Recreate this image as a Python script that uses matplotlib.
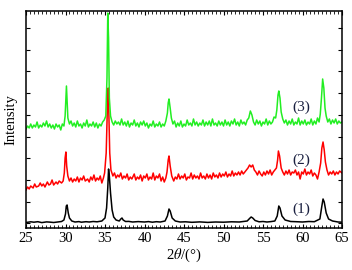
import numpy as np
import matplotlib
matplotlib.use("Agg")
import matplotlib.pyplot as plt
from matplotlib.ticker import MultipleLocator, NullFormatter

plt.rcParams['font.family'] = ['Liberation Serif', 'DejaVu Serif']
plt.rcParams['mathtext.fontset'] = 'stix'

# muestra (1) - negro
s1 = [(25.0, 5.5), (25.6, 6.2), (26, 5.8), (26.5, 6.3), (27, 5.4), (27.6, 6.1), (28, 5.9), (28.5, 5.5),
      (29, 6.0), (29.5, 6.5), (29.8, 8), (30.0, 14),
      (30.1, 22), (30.2, 23), (30.35, 15), (30.5, 10), (30.8, 7), (31.2, 6), (31.7, 6.4), (32, 5.8),
      (32.6, 6.3), (33, 6), (33.5, 6.5), (34, 6.2), (34.6, 7), (35.0, 10), (35.2, 20), (35.35, 40),
      (35.45, 59), (35.55, 52), (35.7, 35), (35.9, 18), (36.1, 11), (36.4, 8), (36.8, 7), (37.0, 9),
      (37.15, 10), (37.3, 8), (37.6, 6.5), (38.0, 6.6), (38.5, 6), (39.2, 6.4), (40, 6), (40.5, 6.4),
      (41, 5.8), (41.5, 6.3), (42, 6), (42.6, 7), (42.9, 12), (43.1, 19),
      (43.25, 17), (43.5, 10), (43.9, 7), (44.5, 6), (45.2, 6.2), (46, 5.7), (47, 6.1), (48, 5.6),
      (49, 6.0), (50, 5.8), (51, 6.2), (52, 6),
      (53, 7), (53.3, 9.5), (53.5, 11), (53.7, 10), (54.0, 7.5), (54.5, 6.2), (55.0, 6.5), (55.5, 6),
      (56.0, 6.4), (56.5, 7),
      (56.8, 12), (57.0, 22), (57.15, 20), (57.4, 12), (57.8, 8), (58.5, 6.5), (59.2, 6.3), (60, 6),
      (60.8, 6.5), (61.5, 6.3), (62.2, 9), (62.45, 22), (62.6, 29), (62.75, 26), (63.0, 15), (63.3, 9),
      (63.8, 7), (64.5, 6), (65, 5.8)]

# muestra (2) - rojo
s2 = [(25.0, 38), (25.2, 41), (25.4, 39), (25.6, 42), (25.9, 40), (26.1, 44), (26.3, 41), (26.6, 42),
      (26.8, 45), (27.0, 42), (27.2, 44), (27.4, 41), (27.7, 46), (27.9, 43), (28.1, 44), (28.3, 48),
      (28.5, 43), (28.8, 46), (29.0, 44), (29.2, 47), (29.5, 45), (29.7, 47), (29.85, 55), (29.95, 70),
      (30.05, 76), (30.15, 62), (30.3, 52), (30.5, 47), (30.7, 50), (30.9, 46), (31.1, 49), (31.3, 47),
      (31.5, 51), (31.7, 46), (31.9, 50), (32.1, 48), (32.3, 52), (32.5, 47), (32.8, 49), (33.0, 46),
      (33.2, 51), (33.4, 48), (33.6, 53), (33.8, 47), (34.0, 50), (34.2, 48), (34.4, 52), (34.6, 45),
      (34.8, 50), (34.95, 55), (35.15, 75), (35.3, 120), (35.4, 140), (35.5, 110), (35.6, 75),
      (35.75, 58), (36.0, 52), (36.2, 55), (36.4, 50), (36.6, 53), (36.8, 51), (37.0, 55), (37.2, 49),
      (37.4, 52), (37.6, 50), (37.8, 54), (38.0, 48), (38.2, 51), (38.4, 49), (38.7, 54), (38.9, 48),
      (39.1, 51), (39.3, 49), (39.5, 53), (39.7, 47), (39.9, 52), (40.1, 50), (40.3, 54), (40.5, 48),
      (40.7, 51), (40.9, 49), (41.1, 55), (41.3, 48), (41.5, 52), (41.7, 50), (41.9, 54), (42.1, 47),
      (42.3, 51), (42.5, 46), (42.7, 50), (42.85, 56), (43.0, 68), (43.1, 72), (43.25, 62),
      (43.45, 52), (43.7, 47), (43.9, 51), (44.1, 49), (44.3, 54), (44.5, 49), (44.7, 52), (44.9, 50),
      (45.1, 54), (45.3, 48), (45.5, 51), (45.7, 50), (45.9, 55), (46.1, 49), (46.3, 53), (46.5, 50),
      (46.7, 52), (46.9, 49), (47.1, 55), (47.3, 50), (47.5, 52), (47.7, 49), (47.9, 54), (48.1, 50),
      (48.3, 53), (48.5, 49), (48.7, 55), (48.9, 51), (49.1, 53), (49.3, 50), (49.5, 55), (49.7, 51),
      (49.9, 54), (50.1, 52), (50.3, 56), (50.5, 51), (50.7, 54), (50.9, 52), (51.1, 57), (51.3, 52),
      (51.5, 55), (51.7, 53), (51.9, 56), (52.1, 53), (52.3, 57), (52.5, 54), (52.7, 56), (52.9, 58),
      (53.1, 60), (53.3, 63), (53.5, 61), (53.7, 63), (53.9, 58), (54.1, 56), (54.3, 53), (54.5, 57),
      (54.7, 54), (54.9, 52), (55.1, 56), (55.3, 53), (55.5, 57), (55.7, 54), (55.9, 58), (56.1, 53),
      (56.3, 56), (56.5, 58), (56.7, 60), (56.85, 68), (56.95, 77), (57.1, 72), (57.3, 60), (57.5, 56),
      (57.7, 53), (57.9, 57), (58.1, 54), (58.3, 58), (58.5, 53), (58.7, 56), (58.9, 55), (59.1, 58),
      (59.3, 53), (59.5, 56), (59.7, 49), (59.9, 56), (60.1, 54), (60.3, 59), (60.5, 53), (60.7, 56),
      (60.9, 54), (61.1, 58), (61.3, 52), (61.5, 55), (61.7, 53), (61.9, 49), (62.1, 56), (62.3, 65),
      (62.45, 80), (62.6, 86), (62.75, 78), (62.9, 66), (63.1, 58), (63.3, 53), (63.5, 56), (63.7, 54),
      (63.9, 57), (64.1, 53), (64.3, 56), (64.5, 54), (64.7, 57), (65.0, 55)]

# muestra (3) - verde
s3 = [(25.0, 99), (25.2, 102), (25.4, 100), (25.6, 104), (25.8, 100), (26.0, 103), (26.2, 101),
      (26.4, 106), (26.6, 100), (26.8, 103), (27.0, 101), (27.2, 105), (27.4, 102), (27.6, 107),
      (27.8, 101), (28.0, 104), (28.2, 100), (28.4, 103), (28.6, 99), (28.8, 104), (29.0, 101),
      (29.2, 103), (29.4, 98), (29.6, 104), (29.8, 102), (29.95, 112), (30.05, 130), (30.12, 142),
      (30.2, 128), (30.3, 110), (30.5, 104), (30.7, 107), (30.9, 102), (31.1, 105), (31.3, 101),
      (31.5, 107), (31.7, 102), (31.9, 104), (32.1, 100), (32.3, 105), (32.5, 102), (32.7, 108),
      (32.9, 101), (33.1, 104), (33.3, 102), (33.5, 106), (33.7, 101), (33.9, 105), (34.1, 100),
      (34.3, 104), (34.5, 102), (34.7, 106), (34.9, 108), (35.1, 112), (35.25, 150), (35.35, 215),
      (35.45, 190), (35.55, 130), (35.7, 112), (35.9, 106), (36.1, 103), (36.3, 107), (36.5, 104),
      (36.7, 106), (36.9, 103), (37.1, 109), (37.3, 103), (37.5, 106), (37.7, 102), (37.9, 107),
      (38.1, 101), (38.3, 105), (38.5, 103), (38.7, 108), (38.9, 102), (39.1, 105), (39.3, 101),
      (39.5, 106), (39.7, 103), (39.9, 107), (40.1, 102), (40.3, 105), (40.5, 100), (40.7, 104),
      (40.9, 102), (41.1, 107), (41.3, 101), (41.5, 104), (41.7, 102), (41.9, 106), (42.1, 101),
      (42.3, 104), (42.5, 102), (42.7, 107), (42.9, 115), (43.0, 125), (43.1, 129), (43.25, 120),
      (43.4, 110), (43.6, 104), (43.8, 107), (44.0, 101), (44.2, 105), (44.4, 102), (44.6, 107),
      (44.8, 101), (45.0, 104), (45.2, 102), (45.4, 108), (45.6, 103), (45.8, 105), (46.0, 102),
      (46.2, 109), (46.4, 103), (46.6, 106), (46.8, 102), (47.0, 105), (47.2, 103), (47.4, 108),
      (47.6, 102), (47.8, 106), (48.0, 103), (48.2, 107), (48.4, 102), (48.6, 109), (48.8, 103),
      (49.0, 105), (49.2, 102), (49.4, 107), (49.6, 103), (49.8, 106), (50.0, 102), (50.2, 108),
      (50.4, 103), (50.6, 106), (50.8, 102), (51.0, 107), (51.2, 104), (51.4, 109), (51.6, 103),
      (51.8, 106), (52.0, 102), (52.2, 108), (52.4, 104), (52.6, 106), (52.8, 103), (53.0, 108),
      (53.2, 110), (53.4, 117), (53.6, 113), (53.8, 106), (54.0, 103), (54.2, 108), (54.4, 104),
      (54.6, 107), (54.8, 102), (55.0, 106), (55.2, 104), (55.4, 109), (55.6, 103), (55.8, 107),
      (56.0, 104), (56.2, 106), (56.4, 111), (56.6, 110), (56.75, 118), (56.9, 133), (57.0, 137),
      (57.15, 130), (57.3, 116), (57.5, 109), (57.7, 105), (57.9, 108), (58.1, 103), (58.3, 107),
      (58.5, 104), (58.7, 109), (58.9, 103), (59.1, 106), (59.3, 104), (59.5, 110), (59.7, 103),
      (59.9, 107), (60.1, 104), (60.3, 108), (60.5, 103), (60.7, 106), (60.9, 104), (61.1, 109),
      (61.3, 103), (61.5, 107), (61.7, 104), (61.9, 110), (62.1, 106), (62.25, 114), (62.4, 130),
      (62.55, 149), (62.7, 140), (62.85, 120), (63.0, 112), (63.2, 106), (63.4, 109), (63.6, 104),
      (63.8, 108), (64.0, 105), (64.2, 109), (64.4, 104), (64.6, 107), (64.8, 105), (65.0, 106)]

series = [s1, s2, s3]
colores = ['black', '#ff0000', '#22ee22']
etiquetas = ['(1)', '(2)', '(3)']
pos_etiquetas = [(59.9, 19), (59.9, 68), (59.9, 121)]

fig = plt.figure(figsize=(3.52, 2.70), dpi=100)
ax = fig.add_axes([26/352, 42/270, 316/352, 217/270])

for s, c in zip(series, colores):
    x, y = zip(*s)
    ax.plot(x, y, color=c, lw=1.1)

for txt, (px, py) in zip(etiquetas, pos_etiquetas):
    ax.text(px, py, txt, ha='center', va='center', fontsize=11, color='#1a2040')

ax.set_xlim(25, 65)
ax.set_ylim(0, 217)
ax.xaxis.set_major_locator(MultipleLocator(5))
ax.xaxis.set_minor_locator(MultipleLocator(0.5))
ax.set_yticks(np.arange(4.7, 217, 21.7))
ax.yaxis.set_major_formatter(NullFormatter())
ax.tick_params(which='both', direction='in', top=True, right=True, labelsize=10.5)
ax.tick_params(which='major', length=3, width=0.8)
ax.tick_params(which='minor', length=2, width=0.6)
ax.tick_params(axis='x', pad=3)
for sp in ax.spines.values():
    sp.set_linewidth(1.1)

ax.set_xlabel('2$\\theta$/(°)', fontsize=10.5, labelpad=1)
ax.set_ylabel('Intensity', fontsize=10.5, labelpad=3)

fig.savefig('out.png', dpi=100)
